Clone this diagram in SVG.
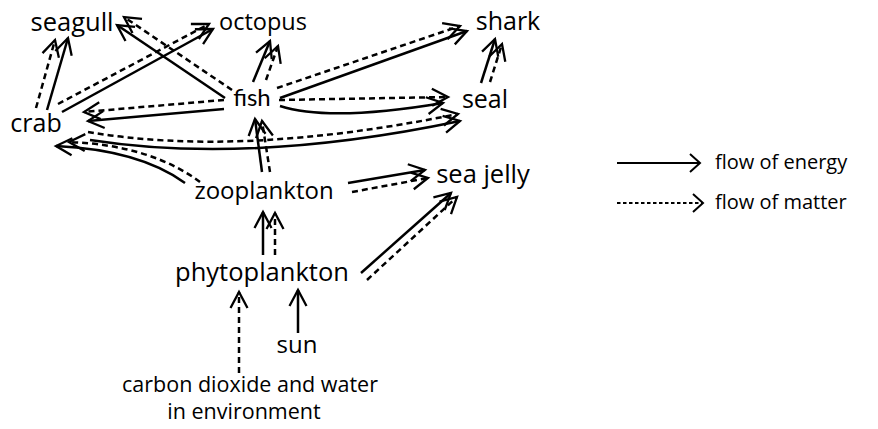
<svg xmlns="http://www.w3.org/2000/svg" width="878" height="429" viewBox="0 0 878 429">
<style>
.t{font-family:"Open Sans","Noto Sans",sans-serif;font-size:25px;fill:#000;text-anchor:middle}
.f{font-family:Lato,"DejaVu Sans",sans-serif;font-weight:400;font-size:24px;fill:#000;text-anchor:middle}
.lg{font-family:"Open Sans","Noto Sans",sans-serif;font-size:20px;fill:#000}
.s{fill:none;stroke:#000;stroke-width:2.5;marker-end:url(#ah)}
.d{fill:none;stroke:#000;stroke-width:2.5;stroke-dasharray:6 4;marker-end:url(#ah)}
</style>
<defs>
<marker id="ah" markerUnits="userSpaceOnUse" orient="auto" overflow="visible" markerWidth="1" markerHeight="1">
<path d="M-16,-8.5 L0,0 L-16,8.5" fill="none" stroke="#000" stroke-width="2.3"/>
</marker>
<marker id="lh" markerUnits="userSpaceOnUse" orient="auto" overflow="visible" markerWidth="1" markerHeight="1">
<path d="M-10,-9 L0,0 L-10,9" fill="none" stroke="#000" stroke-width="2"/>
</marker>
</defs>
<rect width="878" height="429" fill="#fff"/>
<g id="connectors">
<path class="s" d="M47,110 L68,38"/>
<path class="d" d="M36,108 L55,40"/>
<path class="s" d="M62,112 L213,29"/>
<path class="d" d="M58,104 L209,24"/>
<path class="s" d="M225,98 L117,25"/>
<path class="d" d="M232,90 L124,17"/>
<path class="s" d="M224,109 L88,121"/>
<path class="d" d="M224,100 L84,112"/>
<path class="s" d="M253,82 L270,41"/>
<path class="d" d="M266,80 L278,46"/>
<path class="s" d="M280,98 L467,31"/>
<path class="d" d="M277,88 L460,26"/>
<path class="s" d="M280,106 Q330,122 443,103"/>
<path class="d" d="M279,100 L448,97"/>
<path class="s" d="M481,83 L495,39"/>
<path class="d" d="M490,82 L502,44"/>
<path class="s" d="M262,172 L255,119"/>
<path class="d" d="M270,172 L262,121"/>
<path class="s" d="M185,183 Q140,150 56,146"/>
<path class="d" d="M200,182 Q150,145 69,142"/>
<path class="s" d="M90,140 Q250,165 460,121"/>
<path class="d" d="M88,132 Q240,158 458,114"/>
<path class="s" d="M348,183 L425,170"/>
<path class="d" d="M352,192 L428,178"/>
<path class="s" d="M361,273 L451,193"/>
<path class="d" d="M367,280 L457,197"/>
<path class="s" d="M263,255 L263,212"/>
<path class="d" d="M275,255 L275,213"/>
<path class="d" d="M239,373 L239,292"/>
<path class="s" d="M298,333 L298,290"/>
</g>
<g id="seagull"><text class="t" x="72" y="31" style="font-size:25.5px">seagull</text></g>
<g id="octopus"><text class="t" x="263" y="30" style="font-size:23.5px">octopus</text></g>
<g id="shark"><text class="t" x="508" y="30">shark</text></g>
<g id="fish"><text class="f" x="252" y="106">fish</text></g>
<g id="seal"><text class="t" x="485" y="108">seal</text></g>
<g id="crab"><text class="t" x="36" y="132">crab</text></g>
<g id="zooplankton"><text class="t" x="264" y="199" style="font-size:24px">zooplankton</text></g>
<g id="seajelly"><text class="t" x="483" y="183" style="font-size:25.5px">sea jelly</text></g>
<g id="phytoplankton"><text class="t" x="262" y="281" style="font-size:25.5px">phytoplankton</text></g>
<g id="sun"><text class="t" x="297" y="353" style="font-size:24px">sun</text></g>
<g id="co2"><text class="t" x="250" y="392" style="font-size:21.5px">carbon dioxide and water</text><text class="t" x="244" y="419" style="font-size:21.5px">in environment</text></g>
<g id="legend">
<path d="M617,163 L700,163" fill="none" stroke="#000" stroke-width="2" marker-end="url(#lh)"/>
<text class="lg" x="715" y="169">flow of energy</text>
<path d="M617,203 L703,203" fill="none" stroke="#000" stroke-width="2" stroke-dasharray="3.5 2.5" marker-end="url(#lh)"/>
<text class="lg" x="715" y="209">flow of matter</text>
</g>
</svg>
